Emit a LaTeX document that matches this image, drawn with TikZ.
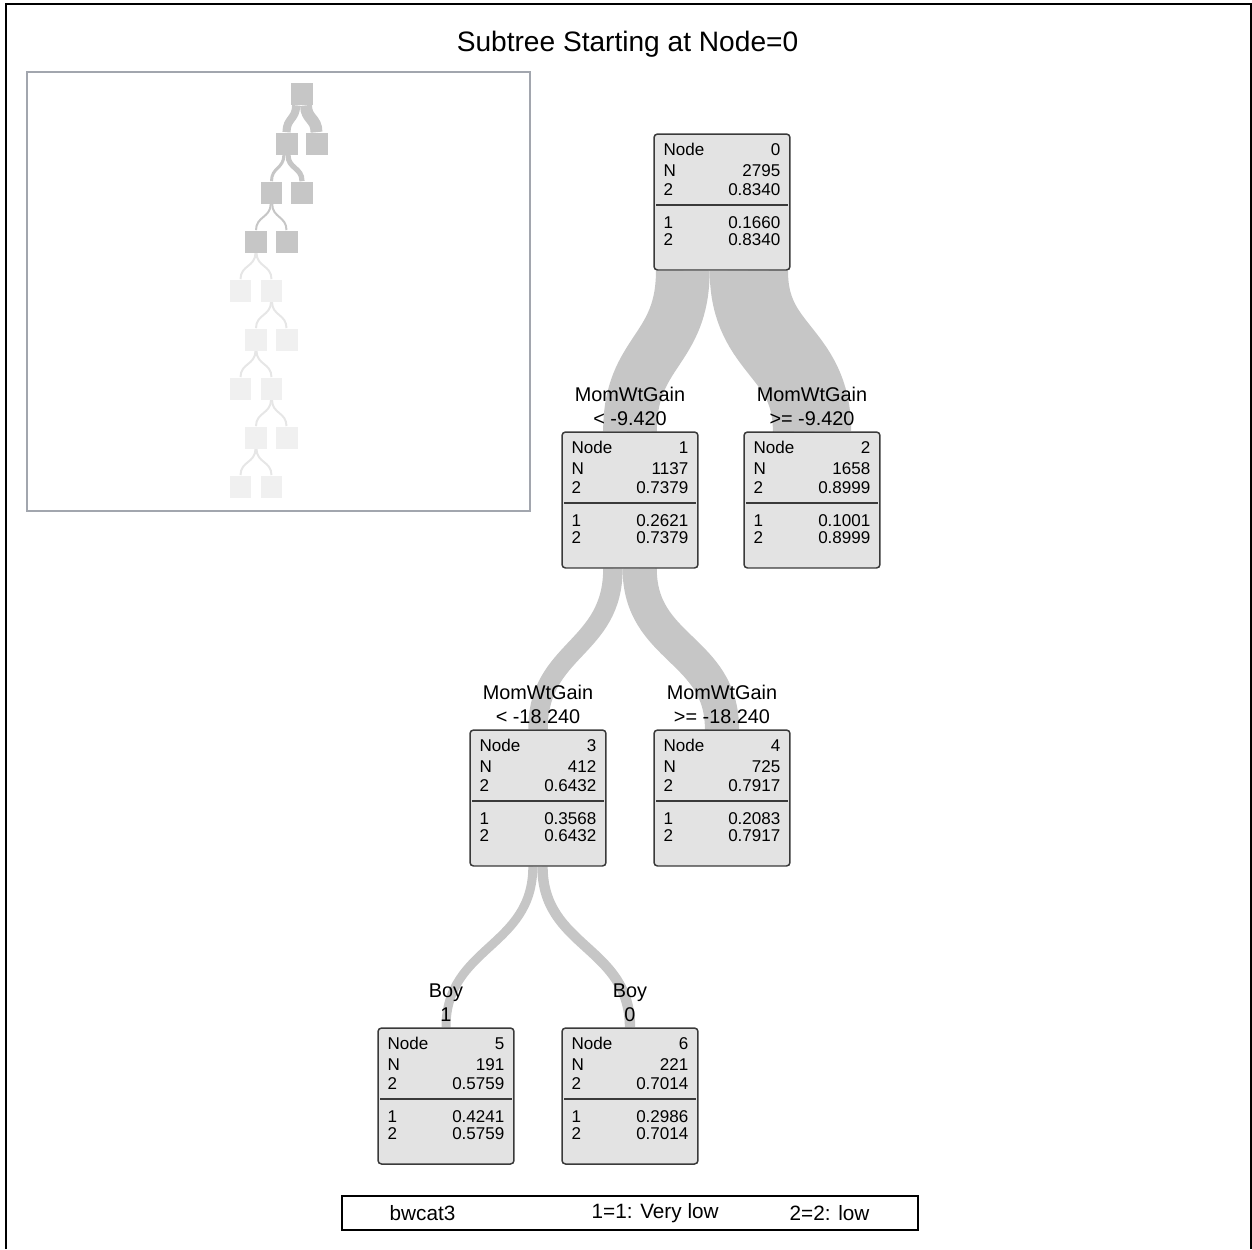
\documentclass[tikz,border=0pt]{standalone}
\usepackage{fontspec}
\setmainfont{Liberation Sans}
\usepackage{tikz}
\usetikzlibrary{positioning,calc,backgrounds}
\definecolor{bandgray}{HTML}{C6C6C6}
\definecolor{boxfill}{HTML}{E3E3E3}
\definecolor{boxline}{HTML}{3A3A3A}
\definecolor{minidark}{HTML}{C6C6C6}
\definecolor{minilite}{HTML}{F0F0F0}
\definecolor{minilink}{HTML}{E6E6E6}
\definecolor{ovwline}{HTML}{A2A6AE}

\begin{document}
\begin{tikzpicture}[x=0.02cm, y=-0.02cm,
 box/.style={draw=boxline, fill=boxfill, line width=0.85pt, rounded corners=2pt,
   minimum width=2.72cm, minimum height=2.72cm, inner sep=0pt},
 cell/.style={font=\fontsize{9.7}{11}\selectfont, inner sep=0pt},
 split/.style={font=\fontsize{11.3}{13.6}\selectfont, align=center, inner sep=0pt},
 band/.style={draw=bandgray, line width=#1*0.2mm},
 mini/.style={minimum size=0.44cm, inner sep=0pt},
 lgd/.style={font=\fontsize{11.8}{14}\selectfont, inner sep=0pt, anchor=west}]
\useasboundingbox (0,0) rectangle (1252,1249);
% cadre et titre
\draw[line width=0.85pt] (6,1249) -- (6,4) -- (1251,4) -- (1251,1249);
\node[font=\fontsize{16}{19}\selectfont, inner sep=0pt] (title) at (627.5,44) {Subtree Starting at Node=0};
% apercu de l'arbre complet
\node[draw=ovwline, line width=0.85pt, minimum width=10.06cm, minimum height=8.78cm, inner sep=0pt] (ovw) at (278.5,291.5) {};
\foreach \m/\x/\y/\c in {0/302/94/minidark, 1/286.5/143.5/minidark, 2/316.5/143.5/minidark,
  3/271.5/192.5/minidark, 4/302/192.5/minidark, 5/256/241.5/minidark, 6/286.5/241.5/minidark,
  7/240.5/290.5/minilite, 8/271.5/290.5/minilite, 9/256/339.5/minilite, 10/286.5/339.5/minilite,
  11/240.5/388.5/minilite, 12/271.5/388.5/minilite, 13/256/437.5/minilite, 14/286.5/437.5/minilite,
  15/240.5/486.5/minilite, 16/271.5/486.5/minilite}
  \node[mini, fill=\c] (m\m) at (\x,\y) {};
% noeuds
\foreach \n/\x/\y/\N/\p/\q in {0/722/202/2795/0.8340/0.1660, 1/630/500/1137/0.7379/0.2621,
  2/812/500/1658/0.8999/0.1001, 3/538/798/412/0.6432/0.3568, 4/722/798/725/0.7917/0.2083,
  5/446/1096/191/0.5759/0.4241, 6/630/1096/221/0.7014/0.2986} {
  \node[box] (n\n) at (\x,\y) {};
  \foreach \r/\k/\v in {16/Node/\n, 37/N/\N, 56/2/\p, 89/1/\q, 106/2/\p} {
    \node[cell, anchor=west] (n\n-\r k) at ($(n\n.north west)+(10,\r)$) {\k};
    \node[cell, anchor=east] (n\n-\r v) at ($(n\n.north east)+(-10,\r)$) {\v};
  }
  \draw[boxline, line width=1.1pt] ($(n\n.north west)+(3,72)$) -- ($(n\n.north east)+(-3,72)$);
}
% regles de coupure
\foreach \n/\a/\b in {1/MomWtGain/{< -9.420}, 2/MomWtGain/{>= -9.420},
  3/MomWtGain/{< -18.240}, 4/MomWtGain/{>= -18.240}, 5/Boy/1, 6/Boy/0}
  \node[split, above=3pt of n\n] (s\n) {\a\\\b};
% branches
\begin{scope}[on background layer]
\foreach \a/\b/\o/\w in {0/1/-39.2/53.7, 0/2/26.85/78.3, 1/3/-17.1/19.5,
  1/4/9.7/34.2, 3/5/-5.2/9, 3/6/4.5/10.4}
  \draw[band=\w] ($(n\a.south)+(\o,0)$) .. controls +(0,81) and +(0,-81) .. (n\b.north);
\foreach \a/\b/\o/\w/\c in {0/1/-5.9/8.1/minidark, 0/2/4.05/11.9/minidark,
  1/3/-2.6/3/minidark, 1/4/1.5/5.2/minidark, 3/5/-0.8/2/minidark, 3/6/0.7/2/minidark,
  5/7/-0.5/2/minilink, 5/8/0.5/2/minilink, 8/9/-0.5/2/minilink, 8/10/0.5/2/minilink,
  9/11/-0.5/2/minilink, 9/12/0.5/2/minilink, 12/13/-0.5/2/minilink, 12/14/0.5/2/minilink,
  13/15/-0.5/2/minilink, 13/16/0.5/2/minilink}
  \draw[band=\w, draw=\c] ($(m\a.south)+(\o,0)$) .. controls +(0,14) and +(0,-14) .. (m\b.north);
\end{scope}
% legende
\node[draw, line width=0.85pt, minimum width=11.52cm, minimum height=0.68cm, inner sep=0pt] (legend) at (630,1213) {};
\node[lgd] (lg1) at ($(legend.west)+(48,0)$) {bwcat3};
\node[lgd] (lg2) at ($(legend.west)+(250,0)$) {1=1: Very low};
\node[lgd] (lg3) at ($(legend.west)+(448,0)$) {2=2: low};
\end{tikzpicture}
\end{document}
